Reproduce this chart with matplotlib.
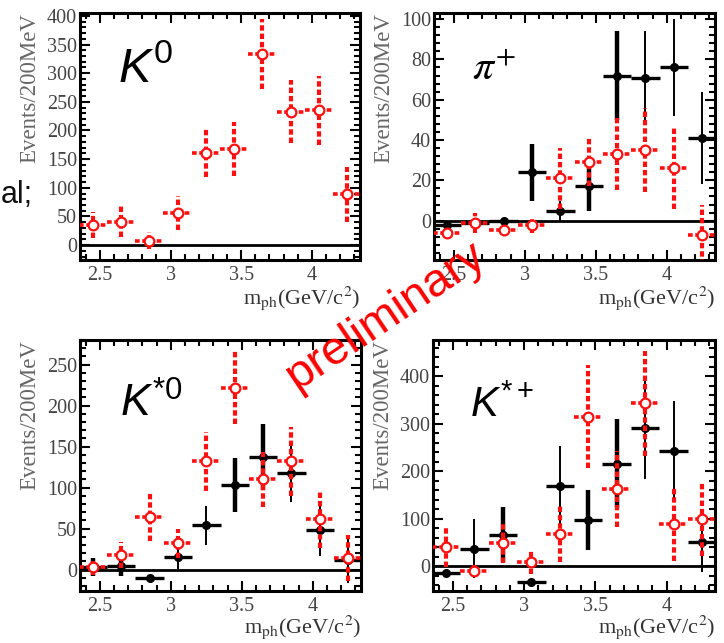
import matplotlib
matplotlib.use('Agg')
import matplotlib.pyplot as plt
from matplotlib.ticker import MultipleLocator, AutoMinorLocator

plt.rcParams['font.family'] = ['Liberation Serif', 'DejaVu Serif']
plt.rcParams['mathtext.fontset'] = 'custom'
plt.rcParams['mathtext.rm'] = 'Liberation Sans'
plt.rcParams['mathtext.it'] = 'Liberation Sans:italic'
plt.rcParams['mathtext.bf'] = 'Liberation Sans:bold'

# bin centres (GeV/c^2), 200 MeV bins
mph = [2.45, 2.65, 2.85, 3.05, 3.25, 3.45, 3.65, 3.85, 4.05, 4.25]

# K0
k0_red = [35, 41, 8, 56, 160, 167, 333, 233, 235, 89]
k0_red_err = [22, 27, 14, 30, 42, 47, 61, 55, 60, 48]

# pi+
pi_black = [-2, -1, 0, 24, 5, 17, 72, 71, 76, 41]
pi_black_err = [2, 2, 1, 14, 5, 12, 22, 23, 24, 23]
pi_red = [-6, -1, -4.5, -2, 21, 29, 33, 35, 26, -7]
pi_red_err = [2, 5, 2, 4, 15, 12, 18, 21, 20, 15]

# K*0
ks0_black = [3, 4, -10, 15, 54, 103, 137, 118, 48, 12]
ks0_black_err = [11, 12, 2, 14, 24, 33, 40, 35, 31, 28]
ks0_red = [3, 18, 64, 32, 132, 222, 110, 132, 62, 14]
ks0_red_err = [9, 16, 29, 18, 36, 44, 33, 42, 35, 28]

# K*+
ksp_black = [-14, 37, 66, -34, 168, 98, 216, 291, 242, 52]
ksp_black_err = [3, 62, 58, 3, 84, 63, 93, 107, 105, 65]
ksp_red = [40, -10, 48, 8, 68, 315, 163, 343, 88, 99]
ksp_red_err = [42, 13, 42, 25, 58, 108, 80, 110, 76, 78]

W, H = 724, 643
fig = plt.figure(figsize=(W / 100, H / 100), dpi=100)

def box(l, t, r, b):
    return [l / W, 1 - b / H, (r - l) / W, (b - t) / H]

RED = '#ff1010'
TXT = '#444444'
dash = (0, (1.3, 0.7))

def draw_black(ax, y, e, thick):
    lw = [3.2 if i in thick else 1.4 for i in range(len(mph))]
    lo = [v - s for v, s in zip(y, e)]
    hi = [v + s for v, s in zip(y, e)]
    ax.vlines(mph, lo, hi, colors='black', linewidths=lw, zorder=3)
    ax.hlines(y, [x - 0.1 for x in mph], [x + 0.1 for x in mph],
              colors='black', linewidths=2.4, zorder=3)
    ax.plot(mph, y, 'o', color='black', ms=5.5, zorder=4)

def draw_red(ax, y, e):
    lo = [v - s for v, s in zip(y, e)]
    hi = [v + s for v, s in zip(y, e)]
    ax.vlines(mph, lo, hi, colors=RED, linewidths=3, linestyles=[dash], zorder=5)
    ax.hlines(y, [x - 0.1 for x in mph], [x + 0.1 for x in mph],
              colors=RED, linewidths=2.6, linestyles=[dash], zorder=5)
    ax.plot(mph, y, 'o', mfc='white', mec=RED, mew=1.6, ms=7, zorder=6)

def setup(ax, ylim, major, label, lx, ly, fs, mfam, xl_y):
    ax.set_xlim(2.36, 4.34)
    ax.set_ylim(*ylim)
    ax.axhline(0, color='black', lw=2, zorder=2)
    ax.xaxis.set_major_locator(MultipleLocator(0.5))
    ax.xaxis.set_minor_locator(MultipleLocator(0.1))
    ax.yaxis.set_major_locator(MultipleLocator(major))
    ax.yaxis.set_minor_locator(AutoMinorLocator(5))
    ax.set_xticks([2.5, 3, 3.5, 4])
    ax.set_xticklabels(['2.5', '3', '3.5', '4'])
    ax.tick_params(which='both', direction='in', top=True, right=True,
                   labelsize=14.5, labelcolor=TXT, width=1.5)
    ax.tick_params(which='major', length=7)
    ax.tick_params(which='minor', length=4)
    ax.tick_params(axis='y', pad=2)
    ax.tick_params(axis='x', pad=4)
    for s in ax.spines.values():
        s.set_linewidth(2.2)
    ax.text(-0.178, 1.0, 'Events/200MeV', transform=ax.transAxes,
            rotation=90, ha='center', va='top', fontsize=16.5, color='#666666')
    ax.text(1.0, xl_y, r'm$_{\rm ph}$(GeV/c$^{2}$)', transform=ax.transAxes,
            ha='right', va='center', fontsize=16, color='#333333',
            math_fontfamily='stix')
    ax.text(lx, ly, label, transform=ax.transAxes, fontsize=fs,
            ha='left', va='baseline', math_fontfamily=mfam)

ax1 = fig.add_axes(box(80, 13, 360, 260))
draw_red(ax1, k0_red, k0_red_err)
setup(ax1, (-26, 405), 50, r'$K^{\mathit{0}}$', 0.136, 0.72, 35, 'custom', -0.155)

ax2 = fig.add_axes(box(434, 13, 715, 260))
draw_black(ax2, pi_black, pi_black_err, (3, 5, 6))
draw_red(ax2, pi_red, pi_red_err)
setup(ax2, (-19.5, 103), 20, r'$\pi^{+}$', 0.135, 0.729, 30, 'stix', -0.155)

ax3 = fig.add_axes(box(80, 340, 361, 591))
draw_black(ax3, ks0_black, ks0_black_err, (0, 1, 5, 6))
draw_red(ax3, ks0_red, ks0_red_err)
setup(ax3, (-26, 280), 50, r'$K^{*\mathit{0}}$', 0.142, 0.693, 32, 'custom', -0.143)

ax4 = fig.add_axes(box(433, 340, 715, 591))
draw_black(ax4, ksp_black, ksp_black_err, (2, 5, 6))
draw_red(ax4, ksp_red, ksp_red_err)
setup(ax4, (-52, 476), 100, r'$K^{*+}$', 0.131, 0.693, 30, 'custom', -0.143)

fig.text(1 / W, 1 - 203 / H, 'al;', fontsize=22, family='Liberation Sans',
         ha='left', va='baseline', color='#111111')
fig.text(385 / W, 1 - 316 / H, 'preliminary', fontsize=34, family='Liberation Sans',
         color='red', rotation=34, rotation_mode='anchor', ha='center', va='center')

fig.savefig('out.png', dpi=100)
